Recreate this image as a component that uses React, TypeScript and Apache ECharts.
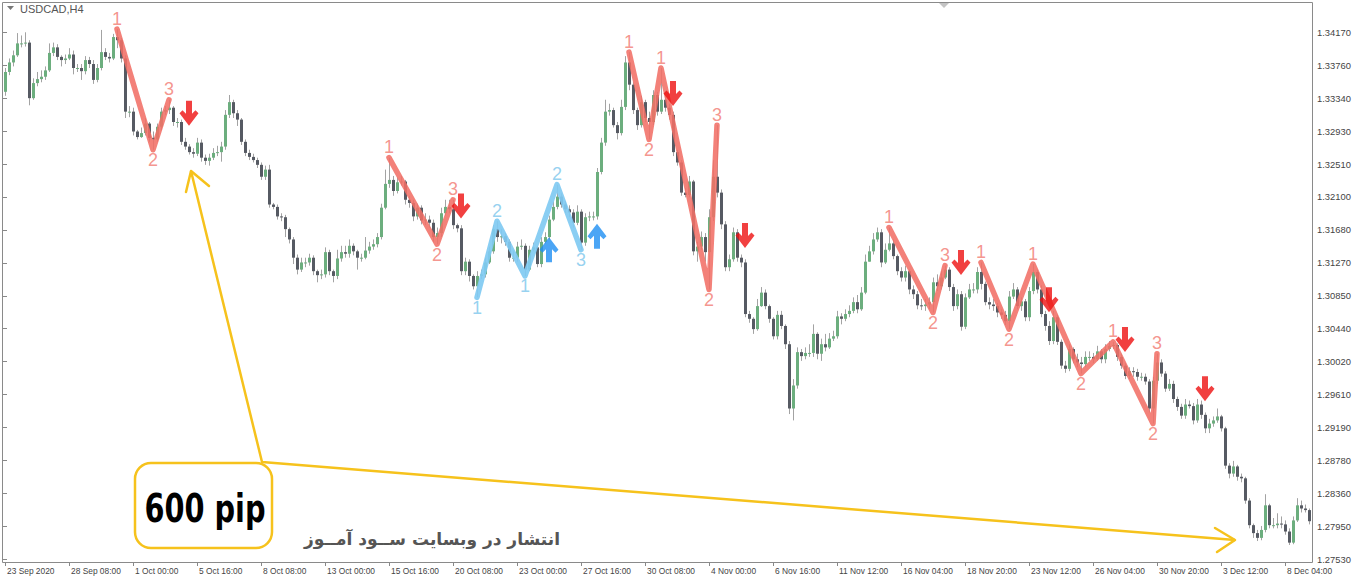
import React, { useEffect, useRef } from "react";
import * as echarts from "echarts";

// ---------- DATA (USDCAD, H4) ----------
const firstOpen = 1.3342;

const closes = [
  1.3367,1.3379,1.3388,1.3403,1.3403,1.3404,1.3334,1.3353,1.3358,1.3361,
  1.3369,1.3391,1.3398,1.3386,1.3382,1.3384,1.3389,1.3372,1.3372,1.3368,
  1.3382,1.3377,1.3357,1.3372,1.3392,1.3386,1.3384,1.3411,1.3407,1.3384,
  1.3317,1.3317,1.3292,1.3285,1.3290,1.3302,1.3284,1.3282,1.3298,1.3317,
  1.3319,1.3322,1.3304,1.3304,1.3279,1.3273,1.3266,1.3264,1.3278,1.3259,
  1.3255,1.3259,1.3265,1.3266,1.3273,1.3313,1.3329,1.3315,1.3307,1.3279,
  1.3265,1.3260,1.3256,1.3250,1.3235,1.3244,1.3200,1.3197,1.3185,1.3184,
  1.3169,1.3156,1.3133,1.3118,1.3127,1.3127,1.3133,1.3116,1.3111,1.3112,
  1.3140,1.3116,1.3110,1.3132,1.3140,1.3138,1.3148,1.3141,1.3133,1.3133,
  1.3142,1.3147,1.3150,1.3159,1.3196,1.3226,1.3231,1.3217,1.3228,1.3229,
  1.3206,1.3202,1.3185,1.3196,1.3180,1.3181,1.3177,1.3159,1.3164,1.3189,
  1.3197,1.3194,1.3174,1.3170,1.3116,1.3128,1.3110,1.3097,1.3110,1.3112,
  1.3127,1.3141,1.3169,1.3159,1.3160,1.3153,1.3133,1.3133,1.3147,1.3148,
  1.3118,1.3143,1.3146,1.3125,1.3153,1.3159,1.3181,1.3197,1.3210,1.3200,
  1.3194,1.3190,1.3177,1.3191,1.3152,1.3184,1.3185,1.3185,1.3241,1.3278,
  1.3317,1.3319,1.3300,1.3290,1.3323,1.3379,1.3351,1.3319,1.3300,1.3329,
  1.3309,1.3304,1.3338,1.3317,1.3332,1.3322,1.3313,1.3266,1.3253,1.3215,
  1.3212,1.3229,1.3141,1.3147,1.3159,1.3140,1.3184,1.3235,1.3215,1.3175,
  1.3121,1.3131,1.3165,1.3133,1.3127,1.3062,1.3056,1.3043,1.3072,1.3089,
  1.3072,1.3056,1.3034,1.3061,1.3047,1.3024,1.2943,1.2972,1.3014,1.3009,
  1.3013,1.3013,1.3037,1.3012,1.3024,1.3020,1.3031,1.3034,1.3059,1.3056,
  1.3062,1.3066,1.3077,1.3068,1.3089,1.3128,1.3141,1.3156,1.3165,1.3127,
  1.3143,1.3151,1.3135,1.3116,1.3108,1.3116,1.3093,1.3087,1.3073,1.3072,
  1.3074,1.3077,1.3102,1.3097,1.3108,1.3118,1.3096,1.3072,1.3087,1.3046,
  1.3083,1.3093,1.3093,1.3115,1.3100,1.3077,1.3074,1.3072,1.3064,1.3061,
  1.3053,1.3084,1.3093,1.3072,1.3078,1.3058,1.3091,1.3115,1.3093,1.3062,
  1.3047,1.3028,1.3058,1.3027,1.2997,1.2993,1.3018,1.3005,1.3001,1.2999,
  1.3008,1.3008,1.3005,1.3015,1.3005,1.3018,1.3022,1.3023,1.3008,1.2997,
  1.2984,1.2990,1.2989,1.2983,1.2983,1.2977,1.2943,1.2978,1.3001,1.2987,
  1.2968,1.2974,1.2955,1.2945,1.2934,1.2948,1.2946,1.2928,1.2948,1.2935,
  1.2918,1.2924,1.2928,1.2933,1.2918,1.2871,1.2861,1.2870,1.2857,1.2855,
  1.2827,1.2796,1.2786,1.2780,1.2790,1.2821,1.2796,1.2796,1.2798,1.2797,
  1.2788,1.2774,1.2802,1.2821,1.2817,1.2815,1.2801,
];

const highs = [
  1.3372,1.3384,1.3394,1.3416,1.3413,1.3417,1.3407,1.3359,1.3367,1.3369,
  1.3374,1.3403,1.3404,1.3402,1.3388,1.3389,1.3397,1.3394,1.3377,1.3377,
  1.3387,1.3386,1.3382,1.3377,1.3420,1.3397,1.3391,1.3415,1.3421,1.3410,
  1.3388,1.3324,1.3322,1.3294,1.3297,1.3309,1.3304,1.3292,1.3302,1.3322,
  1.3324,1.3332,1.3324,1.3309,1.3307,1.3284,1.3276,1.3271,1.3284,1.3282,
  1.3263,1.3264,1.3271,1.3274,1.3279,1.3319,1.3338,1.3332,1.3319,1.3309,
  1.3282,1.3269,1.3264,1.3259,1.3253,1.3249,1.3250,1.3202,1.3200,1.3189,
  1.3187,1.3171,1.3159,1.3137,1.3133,1.3133,1.3138,1.3136,1.3118,1.3118,
  1.3146,1.3143,1.3118,1.3143,1.3148,1.3148,1.3156,1.3151,1.3143,1.3138,
  1.3159,1.3153,1.3156,1.3164,1.3201,1.3244,1.3259,1.3236,1.3234,1.3236,
  1.3231,1.3211,1.3206,1.3201,1.3199,1.3189,1.3186,1.3181,1.3171,1.3196,
  1.3206,1.3206,1.3206,1.3176,1.3174,1.3133,1.3131,1.3112,1.3116,1.3118,
  1.3133,1.3147,1.3174,1.3179,1.3169,1.3164,1.3156,1.3141,1.3153,1.3156,
  1.3151,1.3148,1.3152,1.3148,1.3159,1.3165,1.3186,1.3204,1.3225,1.3214,
  1.3204,1.3199,1.3194,1.3199,1.3194,1.3189,1.3191,1.3191,1.3246,1.3284,
  1.3332,1.3327,1.3322,1.3304,1.3332,1.3387,1.3392,1.3354,1.3322,1.3337,
  1.3332,1.3317,1.3344,1.3342,1.3372,1.3337,1.3327,1.3317,1.3269,1.3256,
  1.3221,1.3236,1.3231,1.3153,1.3166,1.3164,1.3194,1.3256,1.3300,1.3219,
  1.3179,1.3137,1.3171,1.3169,1.3137,1.3131,1.3066,1.3058,1.3081,1.3096,
  1.3093,1.3074,1.3058,1.3066,1.3066,1.3049,1.3028,1.2980,1.3020,1.3018,
  1.3020,1.3024,1.3049,1.3039,1.3031,1.3037,1.3038,1.3041,1.3066,1.3063,
  1.3068,1.3073,1.3083,1.3086,1.3096,1.3137,1.3148,1.3164,1.3171,1.3169,
  1.3151,1.3171,1.3156,1.3137,1.3121,1.3123,1.3118,1.3098,1.3091,1.3081,
  1.3081,1.3083,1.3108,1.3112,1.3116,1.3123,1.3121,1.3100,1.3093,1.3091,
  1.3088,1.3100,1.3101,1.3121,1.3127,1.3103,1.3083,1.3081,1.3076,1.3068,
  1.3066,1.3091,1.3101,1.3096,1.3083,1.3081,1.3096,1.3125,1.3118,1.3098,
  1.3066,1.3053,1.3066,1.3061,1.3030,1.3003,1.3024,1.3020,1.3012,1.3008,
  1.3015,1.3015,1.3013,1.3022,1.3018,1.3024,1.3028,1.3027,1.3025,1.3012,
  1.3000,1.2995,1.2995,1.2993,1.2988,1.2987,1.2980,1.2983,1.3012,1.3005,
  1.2990,1.2980,1.2978,1.2958,1.2949,1.2955,1.2953,1.2950,1.2955,1.2953,
  1.2938,1.2930,1.2933,1.2943,1.2935,1.2920,1.2874,1.2877,1.2872,1.2861,
  1.2857,1.2830,1.2798,1.2790,1.2795,1.2835,1.2823,1.2805,1.2811,1.2807,
  1.2802,1.2792,1.2807,1.2830,1.2827,1.2822,1.2817,
];

const lows = [
  1.3337,1.3363,1.3374,1.3386,1.3398,1.3399,1.3325,1.3332,1.3349,1.3354,
  1.3357,1.3367,1.3387,1.3382,1.3374,1.3377,1.3382,1.3364,1.3367,1.3357,
  1.3364,1.3372,1.3352,1.3354,1.3369,1.3382,1.3379,1.3382,1.3397,1.3379,
  1.3309,1.3310,1.3287,1.3282,1.3284,1.3287,1.3279,1.3269,1.3279,1.3294,
  1.3313,1.3314,1.3299,1.3297,1.3275,1.3269,1.3263,1.3259,1.3261,1.3254,
  1.3250,1.3249,1.3256,1.3261,1.3254,1.3269,1.3309,1.3309,1.3299,1.3275,
  1.3261,1.3256,1.3253,1.3246,1.3231,1.3231,1.3196,1.3194,1.3181,1.3179,
  1.3159,1.3151,1.3125,1.3112,1.3115,1.3121,1.3123,1.3111,1.3102,1.3106,
  1.3108,1.3111,1.3102,1.3106,1.3128,1.3133,1.3133,1.3136,1.3118,1.3128,
  1.3131,1.3138,1.3143,1.3146,1.3156,1.3194,1.3221,1.3211,1.3214,1.3224,
  1.3200,1.3196,1.3179,1.3181,1.3175,1.3174,1.3171,1.3153,1.3150,1.3159,
  1.3186,1.3189,1.3169,1.3165,1.3111,1.3111,1.3103,1.3093,1.3083,1.3106,
  1.3108,1.3125,1.3138,1.3153,1.3151,1.3148,1.3128,1.3128,1.3128,1.3143,
  1.3110,1.3116,1.3141,1.3121,1.3121,1.3151,1.3156,1.3179,1.3194,1.3196,
  1.3189,1.3184,1.3171,1.3174,1.3143,1.3148,1.3179,1.3180,1.3181,1.3238,
  1.3274,1.3312,1.3297,1.3282,1.3287,1.3319,1.3344,1.3314,1.3294,1.3297,
  1.3304,1.3282,1.3300,1.3312,1.3314,1.3317,1.3307,1.3261,1.3249,1.3211,
  1.3209,1.3209,1.3136,1.3128,1.3143,1.3128,1.3093,1.3179,1.3209,1.3169,
  1.3116,1.3116,1.3128,1.3128,1.3121,1.3058,1.3051,1.3037,1.3041,1.3071,
  1.3068,1.3051,1.3030,1.3030,1.3043,1.3018,1.2936,1.2928,1.2968,1.3003,
  1.3005,1.3008,1.3008,1.3005,1.3003,1.3015,1.3018,1.3028,1.3031,1.3049,
  1.3053,1.3058,1.3063,1.3063,1.3066,1.3087,1.3128,1.3137,1.3153,1.3121,
  1.3125,1.3141,1.3131,1.3111,1.3103,1.3103,1.3087,1.3081,1.3068,1.3067,
  1.3066,1.3068,1.3064,1.3091,1.3093,1.3106,1.3091,1.3066,1.3068,1.3041,
  1.3043,1.3081,1.3088,1.3088,1.3093,1.3073,1.3068,1.3066,1.3058,1.3056,
  1.3048,1.3043,1.3081,1.3068,1.3066,1.3053,1.3053,1.3087,1.3088,1.3058,
  1.3041,1.3023,1.3024,1.3023,1.2993,1.2988,1.2990,1.3000,1.2995,1.2987,
  1.2995,1.3003,1.3000,1.3003,1.3000,1.3000,1.3015,1.3018,1.3003,1.2993,
  1.2980,1.2980,1.2983,1.2978,1.2978,1.2973,1.2938,1.2924,1.2974,1.2983,
  1.2964,1.2965,1.2950,1.2940,1.2930,1.2930,1.2943,1.2923,1.2925,1.2930,
  1.2912,1.2912,1.2920,1.2925,1.2914,1.2867,1.2855,1.2857,1.2852,1.2850,
  1.2823,1.2792,1.2780,1.2776,1.2777,1.2787,1.2792,1.2792,1.2792,1.2792,
  1.2784,1.2771,1.2772,1.2800,1.2812,1.2812,1.2797,
];

const xTickLabels = [
  "23 Sep 2020", "28 Sep 08:00", "1 Oct 00:00", "5 Oct 16:00", "8 Oct 08:00",
  "13 Oct 00:00", "15 Oct 16:00", "20 Oct 08:00", "23 Oct 00:00", "27 Oct 16:00",
  "30 Oct 08:00", "4 Nov 00:00", "6 Nov 16:00", "11 Nov 12:00", "16 Nov 04:00",
  "18 Nov 20:00", "23 Nov 12:00", "26 Nov 04:00", "30 Nov 20:00", "3 Dec 12:00",
  "8 Dec 04:00",
];
const xTickEvery = 16;

const yTickLabels = [
  "1.27530", "1.27950", "1.28360", "1.28780", "1.29190", "1.29610", "1.30020",
  "1.30440", "1.30850", "1.31270", "1.31680", "1.32100", "1.32510", "1.32930",
  "1.33340", "1.33760", "1.34170",
];
const yTickBase = 1.2753;
const yTickStep = 0.00415;

// zigzag patterns (candle index, H = high / L = low, label digit)
const redPatterns = [
  { idx: [28, 37, 41], kind: ["H", "L", "H"], num: ["1", "2", "3"] },
  { idx: [96, 108, 112], kind: ["H", "L", "H"], num: ["1", "2", "3"] },
  { idx: [156, 161, 164, 176, 178], kind: ["H", "L", "H", "L", "H"], num: ["1", "2", "1", "2", "3"] },
  { idx: [221, 232, 235], kind: ["H", "L", "H"], num: ["1", "2", "3"] },
  { idx: [244, 251, 257, 269, 277, 287, 288], kind: ["H", "L", "H", "L", "H", "L", "H"], num: ["1", "2", "1", "2", "1", "2", "3"] },
];
const bluePatterns = [
  { idx: [118, 123, 130, 138, 144], kind: ["L", "H", "L", "H", "L"], num: ["1", "2", "1", "2", "3"] },
];

const arrowDownIdx = [46, 114, 167, 185, 239, 261, 280, 300];
const arrowDownPrice = [1.3315, 1.3198, 1.3340, 1.3161, 1.3127, 1.3080, 1.3030, 1.2968];
const arrowUpIdx = [136, 148];
const arrowUpPrice = [1.3143, 1.316];

// ---------- STYLE ----------
const BULL = "#6cae7e";
const BEAR = "#565a63";
const WICK = "#a3a3a3";
const RED_LINE = "rgba(241,112,102,0.88)";
const RED_TXT = "#f27a72";
const BLUE_LINE = "rgba(128,202,242,0.92)";
const BLUE_TXT = "#7cc6ec";
const YELLOW = "#f6c21c";

const DOWN_PATH = "path://M6.5,0 L12.5,0 L12.5,13 L16,9.5 L19,12.5 L9.5,25 L0,12.5 L3,9.5 L6.5,13 Z";
const UP_PATH = "path://M6.5,25 L12.5,25 L12.5,12 L16,15.5 L19,12.5 L9.5,0 L0,12.5 L3,15.5 L6.5,12 Z";

function buildOption() {
  const categories = closes.map((_, i) => String(i));
  const candleData = closes.map((c, i) => {
    const o = i === 0 ? firstOpen : closes[i - 1];
    const h = Math.max(highs[i], o, c);
    const l = Math.min(lows[i], o, c);
    return [i, o, c, l, h];
  });

  const zigSeries: any[] = [];
  const addPatterns = (pats: typeof redPatterns, lineColor: string, txtColor: string) => {
    pats.forEach((p) => {
      const pts = p.idx.map((ix, k) => [ix, p.kind[k] === "H" ? highs[ix] : lows[ix]]);
      zigSeries.push({
        type: "line",
        xAxisIndex: 0,
        yAxisIndex: 0,
        data: pts,
        symbol: "none",
        silent: true,
        z: 4,
        lineStyle: { color: lineColor, width: 5.5, cap: "round", join: "round" },
      });
      zigSeries.push({
        type: "scatter",
        xAxisIndex: 0,
        yAxisIndex: 0,
        symbolSize: 1,
        silent: true,
        z: 5,
        itemStyle: { color: "rgba(0,0,0,0)" },
        label: {
          show: true,
          color: txtColor,
          fontSize: 18,
          fontFamily: "Liberation Sans, Arial, sans-serif",
          distance: 1,
        },
        data: pts.map((pt, k) => ({
          value: pt,
          label: { position: p.kind[k] === "H" ? "top" : "bottom", formatter: p.num[k] },
        })),
      });
    });
  };
  addPatterns(redPatterns, RED_LINE, RED_TXT);
  addPatterns(bluePatterns, BLUE_LINE, BLUE_TXT);

  return {
    animation: false,
    backgroundColor: "#ffffff",
    textStyle: { fontFamily: "Liberation Sans, Arial, sans-serif" },
    grid: [
      { left: 3, top: 3, width: 1308, height: 559, show: false },
      { left: 3, top: 32.3, width: 1308, height: 527, show: false },
    ],
    xAxis: [
      {
        type: "category",
        gridIndex: 0,
        data: categories,
        boundaryGap: true,
        axisLine: { show: false },
        splitLine: { show: false },
        axisTick: {
          show: true,
          interval: (i: number) => i % xTickEvery === 0,
          alignWithLabel: true,
          length: 4,
          lineStyle: { color: "#888" },
        },
        axisLabel: {
          interval: (i: number) => i % xTickEvery === 0,
          formatter: (_v: string, i: number) => xTickLabels[Math.round(i / xTickEvery)] ?? "",
          align: "left",
          fontSize: 8.4,
          color: "#444",
          margin: 5,
          padding: [0, 0, 0, 2],
        },
      },
      { type: "value", gridIndex: 1, min: 0, max: 1, show: false },
    ],
    yAxis: [
      {
        type: "value",
        gridIndex: 0,
        min: 1.27496,
        max: 1.34539,
        show: false,
        splitLine: { show: false },
      },
      {
        type: "value",
        gridIndex: 1,
        position: "right",
        min: yTickBase,
        max: yTickBase + yTickStep * (yTickLabels.length - 1),
        interval: yTickStep,
        axisLine: { show: false },
        splitLine: { show: false },
        axisTick: { show: true, length: 4, lineStyle: { color: "#888" } },
        axisLabel: {
          formatter: (v: number) => yTickLabels[Math.round((v - yTickBase) / yTickStep)] ?? "",
          fontSize: 9.4,
          color: "#444",
          margin: 6,
        },
      },
    ],
    series: [
      {
        type: "custom",
        xAxisIndex: 0,
        yAxisIndex: 0,
        data: candleData,
        encode: { x: 0, y: [1, 2, 3, 4] },
        silent: true,
        z: 2,
        renderItem: (_params: any, api: any) => {
          const ix = api.value(0);
          const o = api.value(1);
          const c = api.value(2);
          const l = api.value(3);
          const h = api.value(4);
          const pO = api.coord([ix, o]);
          const pC = api.coord([ix, c]);
          const pL = api.coord([ix, l]);
          const pH = api.coord([ix, h]);
          const x = Math.round(pO[0]);
          const top = Math.min(pO[1], pC[1]);
          const bot = Math.max(pO[1], pC[1]);
          const bull = c >= o;
          return {
            type: "group",
            children: [
              {
                type: "line",
                shape: { x1: x + 0.5, y1: pH[1], x2: x + 0.5, y2: pL[1] },
                style: { stroke: WICK, lineWidth: 1 },
              },
              {
                type: "rect",
                shape: { x: x - 1, y: top, width: 3, height: Math.max(1, bot - top) },
                style: { fill: bull ? BULL : BEAR },
              },
            ],
          };
        },
      },
      ...zigSeries,
      {
        type: "scatter",
        xAxisIndex: 0,
        yAxisIndex: 0,
        symbol: DOWN_PATH,
        symbolSize: [19, 25],
        silent: true,
        z: 6,
        itemStyle: { color: "#ee1010" },
        data: arrowDownIdx.map((ix, k) => [ix, arrowDownPrice[k]]),
      },
      {
        type: "scatter",
        xAxisIndex: 0,
        yAxisIndex: 0,
        symbol: UP_PATH,
        symbolSize: [19, 25],
        silent: true,
        z: 6,
        itemStyle: { color: "#1e8ff2" },
        data: arrowUpIdx.map((ix, k) => [ix, arrowUpPrice[k]]),
      },
      { type: "scatter", xAxisIndex: 1, yAxisIndex: 1, data: [], silent: true },
    ],
    graphic: [
      {
        type: "rect",
        z: 50,
        silent: true,
        shape: { x: 2.5, y: 2.5, width: 1310, height: 560 },
        style: { fill: "transparent", stroke: "#8a8a8a", lineWidth: 1 },
      },
      {
        type: "polygon",
        z: 50,
        silent: true,
        shape: { points: [[7, 6], [14, 6], [10.5, 10]] },
        style: { fill: "#777" },
      },
      {
        type: "text",
        z: 50,
        silent: true,
        x: 20,
        y: 9,
        style: {
          text: "USDCAD,H4",
          fontSize: 11,
          fill: "#555",
          fontFamily: "Liberation Sans, Arial, sans-serif",
          verticalAlign: "middle",
          align: "left",
        },
      },
      {
        type: "polygon",
        z: 50,
        silent: true,
        shape: { points: [[939, 3], [949, 3], [944, 8]] },
        style: { fill: "#c4c4c4" },
      },
      {
        type: "polyline",
        z: 60,
        silent: true,
        shape: { points: [[191, 171], [262, 462], [1235, 540]] },
        style: { stroke: YELLOW, lineWidth: 2.5, fill: null, lineJoin: "round" },
      },
      {
        type: "polyline",
        z: 60,
        silent: true,
        shape: { points: [[186, 192], [191, 171], [209, 186]] },
        style: { stroke: YELLOW, lineWidth: 2.5, fill: null, lineCap: "round", lineJoin: "round" },
      },
      {
        type: "polyline",
        z: 60,
        silent: true,
        shape: { points: [[1215, 528], [1235, 540], [1217, 552]] },
        style: { stroke: YELLOW, lineWidth: 2.5, fill: null, lineCap: "round", lineJoin: "round" },
      },
      {
        type: "rect",
        z: 61,
        silent: true,
        shape: { x: 135, y: 463, width: 137, height: 85, r: 16 },
        style: { fill: "#ffffff", stroke: YELLOW, lineWidth: 2.5 },
      },
      {
        type: "text",
        z: 62,
        silent: true,
        x: 205,
        y: 508,
        scaleY: 1.2,
        style: {
          text: "600 pip",
          fontSize: 32,
          fontWeight: 900,
          fill: "#000",
          fontFamily: "Liberation Sans Narrow, DejaVu Sans Condensed, Liberation Sans, Arial, sans-serif",
          align: "center",
          verticalAlign: "middle",
        },
      },
      {
        type: "text",
        z: 62,
        silent: true,
        x: 432,
        y: 539,
        style: {
          text: "انتشار در وبسایت ســود آمــوز",
          fontSize: 17,
          fontWeight: "bold",
          fill: "#555",
          fontFamily: "DejaVu Sans, Noto Sans, sans-serif",
          align: "center",
          verticalAlign: "middle",
        },
      },
    ],
  };
}

export default function App() {
  const ref = useRef<HTMLDivElement>(null);
  useEffect(() => {
    if (!ref.current) return;
    const chart = echarts.init(ref.current, undefined, { renderer: "svg" });
    chart.setOption(buildOption() as any);
    return () => chart.dispose();
  }, []);
  return (
    <div
      ref={ref}
      style={{ position: "fixed", left: 0, top: 0, width: 1360, height: 580, background: "#fff" }}
    />
  );
}
